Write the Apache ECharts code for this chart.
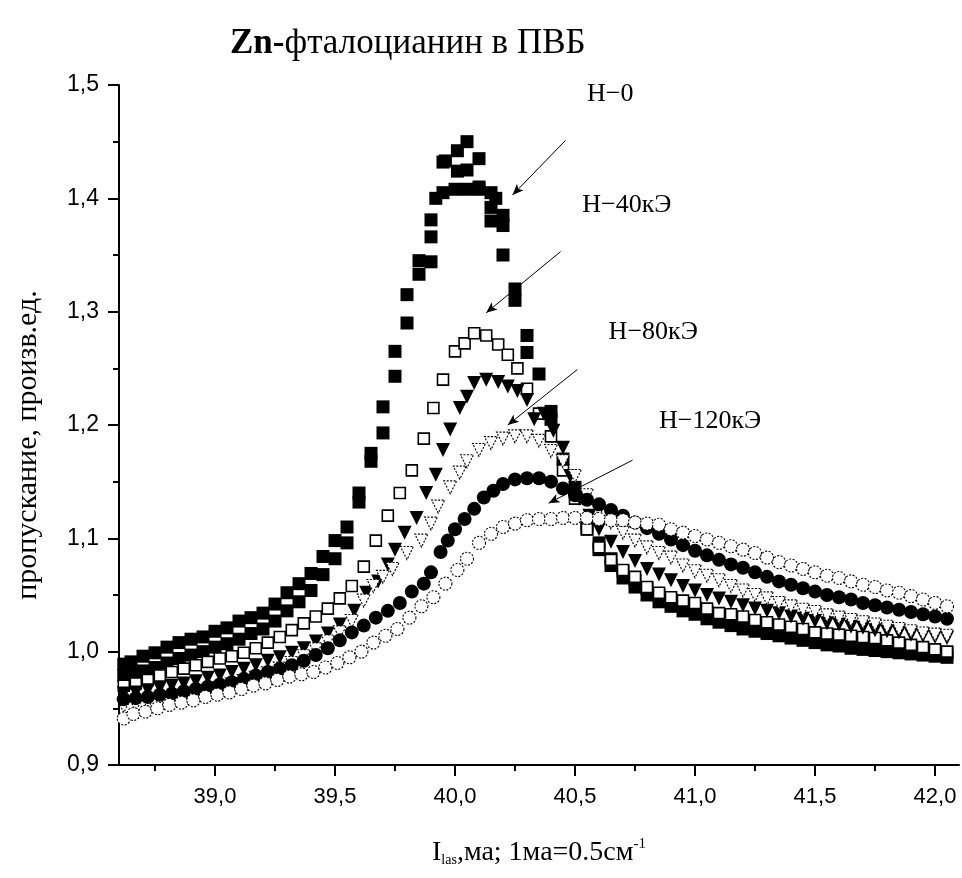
<!DOCTYPE html>
<html>
<head>
<meta charset="utf-8">
<script src="https://cdn.jsdelivr.net/npm/echarts@6/dist/echarts.min.js"></script>
<style>html,body{margin:0;padding:0;background:#fff}#c{width:962px;height:878px}</style>
</head>
<body>
<div id="c"></div>
<script>
// ---------- tick labels ----------
const xMajorTicks = [39.0, 39.5, 40.0, 40.5, 41.0, 41.5, 42.0];
const xMinorTicks = [38.75, 39.25, 39.75, 40.25, 40.75, 41.25, 41.75];

// ---------- H=0 (filled squares) : two scans + peak points ----------
const h0aX = [38.62,38.65,38.70,38.75,38.80,38.85,38.90,38.95,39.00,39.05,39.10,39.15,39.20,39.25,39.30,39.35,39.40,39.45,39.50,39.55,39.60,39.65,39.70,39.75,39.80,39.85,39.90,39.92,39.96,40.01,40.05,40.10,40.15,40.20,40.25,40.30,40.35,40.40,40.45,40.50,40.55,40.60,40.65,40.70,40.75,40.80,40.85,40.90,40.95,41.00,41.05,41.10,41.15,41.20,41.25,41.30,41.35,41.40,41.45,41.50,41.55,41.60,41.65,41.70,41.75,41.80,41.85,41.90,41.95,42.00,42.05];
const h0aY = [0.989,0.991,0.996,0.999,1.004,1.008,1.011,1.013,1.018,1.021,1.027,1.030,1.034,1.042,1.052,1.060,1.069,1.084,1.098,1.110,1.140,1.175,1.216,1.265,1.315,1.345,1.366,1.400,1.433,1.442,1.450,1.435,1.405,1.385,1.320,1.279,1.245,1.205,1.170,1.145,1.112,1.096,1.082,1.071,1.063,1.056,1.050,1.046,1.042,1.039,1.035,1.031,1.029,1.026,1.024,1.022,1.020,1.018,1.016,1.014,1.012,1.011,1.009,1.008,1.007,1.006,1.004,1.003,1.002,1.000,0.999];
const h0bX = [38.62,38.65,38.70,38.75,38.80,38.85,38.90,38.95,39.00,39.05,39.10,39.15,39.20,39.25,39.30,39.35,39.40,39.45,39.50,39.55,39.60,39.65,39.70,39.75,39.80,39.85,39.90,39.95,40.00,40.05,40.10,40.15,40.20,40.25,40.30,40.55,40.60,40.65,40.70,40.75,40.80,40.85,40.90,40.95,41.00,41.05,41.10,41.15,41.20,41.25,41.30,41.35,41.40,41.45,41.50,41.55,41.60,41.65,41.70,41.75,41.80,41.85,41.90,41.95,42.00,42.05];
const h0bY = [0.979,0.980,0.983,0.986,0.990,0.994,0.997,1.000,1.004,1.007,1.011,1.016,1.020,1.027,1.036,1.044,1.054,1.068,1.082,1.096,1.132,1.168,1.193,1.243,1.290,1.333,1.344,1.405,1.408,1.425,1.408,1.392,1.350,1.310,1.264,1.108,1.090,1.076,1.065,1.057,1.050,1.044,1.040,1.036,1.033,1.029,1.026,1.023,1.020,1.018,1.016,1.014,1.012,1.010,1.008,1.006,1.005,1.003,1.002,1.001,1.000,0.999,0.998,0.997,0.996,0.995];
const h0peakX = [39.90,39.95,40.01,40.05,40.10,40.15,40.17,40.20,40.40];
const h0peakY = [1.381,1.432,1.424,1.408,1.410,1.380,1.400,1.376,1.212];

// ---------- H=40 kOe (open squares) ----------
const h40X = [38.62,38.67,38.72,38.77,38.82,38.87,38.92,38.97,39.02,39.07,39.12,39.17,39.22,39.27,39.32,39.37,39.42,39.47,39.52,39.57,39.62,39.67,39.72,39.77,39.82,39.87,39.91,39.95,40.00,40.04,40.08,40.13,40.18,40.22,40.26,40.30,40.35,40.40,40.45,40.50,40.55,40.60,40.65,40.70,40.75,40.80,40.85,40.90,40.95,41.00,41.05,41.10,41.15,41.20,41.25,41.30,41.35,41.40,41.45,41.50,41.55,41.60,41.65,41.70,41.75,41.80,41.85,41.90,41.95,42.00,42.05];
const h40Y = [0.970,0.972,0.975,0.979,0.982,0.985,0.988,0.991,0.994,0.996,0.999,1.003,1.008,1.013,1.019,1.025,1.031,1.038,1.047,1.058,1.075,1.098,1.120,1.140,1.160,1.188,1.215,1.240,1.265,1.272,1.281,1.279,1.271,1.262,1.250,1.232,1.210,1.190,1.160,1.135,1.108,1.092,1.081,1.072,1.066,1.057,1.052,1.048,1.045,1.043,1.038,1.034,1.033,1.031,1.028,1.026,1.024,1.022,1.020,1.017,1.016,1.015,1.014,1.013,1.012,1.010,1.008,1.006,1.004,1.002,1.000];

// ---------- filled down-triangles ----------
const triFX = [38.62,38.67,38.72,38.77,38.82,38.87,38.92,38.97,39.02,39.07,39.12,39.17,39.22,39.27,39.32,39.37,39.42,39.47,39.52,39.58,39.63,39.68,39.72,39.75,39.79,39.84,39.88,39.92,39.95,39.98,40.02,40.05,40.08,40.13,40.18,40.22,40.26,40.30,40.33,40.37,40.41,40.45,40.48,40.52,40.56,40.60,40.65,40.70,40.75,40.80,40.85,40.90,40.95,41.00,41.05,41.10,41.15,41.20,41.25,41.30,41.35,41.40,41.45,41.50,41.55,41.60,41.65,41.70,41.75,41.80,41.85,41.90,41.95,42.00,42.05];
const triFY = [0.963,0.964,0.966,0.968,0.970,0.972,0.974,0.977,0.979,0.982,0.985,0.988,0.992,0.995,0.999,1.003,1.009,1.016,1.024,1.036,1.052,1.062,1.077,1.090,1.105,1.118,1.140,1.156,1.178,1.196,1.215,1.225,1.237,1.240,1.238,1.234,1.230,1.222,1.205,1.210,1.195,1.180,1.155,1.135,1.120,1.108,1.097,1.088,1.080,1.073,1.068,1.063,1.058,1.054,1.050,1.047,1.044,1.041,1.038,1.036,1.034,1.031,1.029,1.027,1.025,1.024,1.022,1.021,1.019,1.018,1.017,1.015,1.014,1.013,1.012];

// ---------- open down-triangles ----------
const triOX = [38.62,38.67,38.72,38.77,38.82,38.87,38.92,38.97,39.02,39.07,39.12,39.17,39.22,39.27,39.32,39.37,39.42,39.47,39.52,39.57,39.62,39.66,39.70,39.74,39.80,39.86,39.90,39.93,39.98,40.02,40.05,40.10,40.15,40.20,40.25,40.30,40.35,40.40,40.45,40.50,40.55,40.60,40.65,40.70,40.75,40.80,40.85,40.90,40.95,41.00,41.05,41.10,41.15,41.20,41.25,41.30,41.35,41.40,41.45,41.50,41.55,41.60,41.65,41.70,41.75,41.80,41.85,41.90,41.95,42.00,42.05];
const triOY = [0.952,0.953,0.955,0.957,0.959,0.961,0.963,0.965,0.968,0.971,0.974,0.977,0.981,0.985,0.990,0.996,1.002,1.009,1.017,1.027,1.045,1.058,1.066,1.073,1.087,1.098,1.113,1.128,1.145,1.158,1.168,1.178,1.184,1.188,1.190,1.190,1.186,1.177,1.168,1.155,1.138,1.125,1.114,1.105,1.098,1.092,1.087,1.083,1.076,1.071,1.067,1.063,1.058,1.054,1.050,1.047,1.043,1.040,1.037,1.035,1.032,1.030,1.028,1.026,1.024,1.022,1.020,1.018,1.016,1.015,1.014];

// ---------- filled circles ----------
const cirFX = [38.62,38.67,38.72,38.77,38.82,38.87,38.92,38.97,39.02,39.07,39.12,39.17,39.22,39.27,39.32,39.37,39.42,39.47,39.52,39.57,39.62,39.67,39.72,39.77,39.82,39.87,39.90,39.94,39.97,40.00,40.04,40.08,40.12,40.16,40.20,40.25,40.30,40.35,40.40,40.45,40.50,40.55,40.60,40.65,40.70,40.75,40.80,40.85,40.90,40.95,41.00,41.05,41.10,41.15,41.20,41.25,41.30,41.35,41.40,41.45,41.50,41.55,41.60,41.65,41.70,41.75,41.80,41.85,41.90,41.95,42.00,42.05];
const cirFY = [0.958,0.959,0.960,0.962,0.963,0.965,0.967,0.969,0.971,0.973,0.976,0.979,0.982,0.985,0.988,0.992,0.997,1.003,1.010,1.017,1.023,1.030,1.036,1.043,1.053,1.060,1.070,1.088,1.098,1.108,1.117,1.126,1.136,1.142,1.148,1.152,1.153,1.153,1.150,1.144,1.138,1.134,1.130,1.125,1.120,1.114,1.109,1.104,1.099,1.094,1.089,1.085,1.081,1.077,1.074,1.070,1.066,1.062,1.059,1.056,1.053,1.050,1.048,1.046,1.043,1.041,1.039,1.037,1.035,1.033,1.031,1.029];

// ---------- open circles ----------
const cirOX = [38.62,38.66,38.71,38.76,38.81,38.86,38.91,38.96,39.01,39.06,39.11,39.16,39.21,39.26,39.31,39.36,39.41,39.46,39.51,39.56,39.61,39.66,39.71,39.76,39.81,39.86,39.91,39.96,40.01,40.05,40.10,40.15,40.20,40.25,40.30,40.35,40.40,40.45,40.50,40.55,40.60,40.65,40.70,40.75,40.80,40.85,40.90,40.95,41.00,41.05,41.10,41.15,41.20,41.25,41.30,41.35,41.40,41.45,41.50,41.55,41.60,41.65,41.70,41.75,41.80,41.85,41.90,41.95,42.00,42.05];
const cirOY = [0.941,0.945,0.947,0.950,0.953,0.955,0.957,0.960,0.962,0.964,0.967,0.970,0.972,0.975,0.978,0.980,0.982,0.986,0.990,0.995,1.000,1.008,1.014,1.020,1.030,1.040,1.048,1.060,1.072,1.082,1.096,1.104,1.110,1.113,1.116,1.117,1.117,1.118,1.118,1.118,1.117,1.116,1.116,1.114,1.113,1.112,1.108,1.105,1.102,1.099,1.096,1.093,1.090,1.087,1.083,1.079,1.076,1.073,1.070,1.067,1.065,1.062,1.059,1.057,1.054,1.052,1.049,1.046,1.043,1.040];

// ---------- annotations ----------
const noteText = ['H\u22120', 'H\u221240кЭ', 'H\u221280кЭ', 'H\u2212120кЭ'];
const noteX = [40.55, 40.53, 40.64, 40.85];
const noteY = [1.492, 1.394, 1.282, 1.203];
const arrowFromX = [40.46, 40.44, 40.51, 40.74];
const arrowFromY = [1.451, 1.353, 1.249, 1.169];
const arrowToX = [40.24, 40.13, 40.22, 40.39];
const arrowToY = [1.403, 1.299, 1.200, 1.131];

const zip = (xs, ys) => xs.map((x, i) => [x, ys[i]]);
const fmt = v => v.toFixed(1).replace('.', ',');

const chart = echarts.init(document.getElementById('c'), null, {renderer: 'canvas'});

const arrowLines = arrowFromX.map((x, i) => [
  {coord: [x, arrowFromY[i]], symbol: 'none'},
  {coord: [arrowToX[i], arrowToY[i]], symbol: 'arrow', symbolSize: [7, 11]}
]);

const serifFont = 'Liberation Serif';
const sansFont = 'Liberation Sans';

chart.setOption({
  backgroundColor: '#fff',
  animation: false,
  title: {
    text: '{b|Zn-}фталоцианин в ПВБ',
    left: 225, top: 21,
    textStyle: {
      fontFamily: serifFont, fontSize: 35, fontWeight: 'normal', color: '#000',
      rich: {b: {fontFamily: serifFont, fontSize: 35, fontWeight: 'bold', color: '#000'}}
    }
  },
  grid: {left: 119, right: 3, top: 85, bottom: 113, containLabel: false},
  xAxis: [{
    type: 'value', min: 38.6, max: 42.1,
    axisLine: {show: true, onZero: false, lineStyle: {color: '#000', width: 2}},
    axisTick: {show: true, inside: false, length: 11, customValues: xMajorTicks, lineStyle: {color: '#000', width: 2}},
    axisLabel: {customValues: xMajorTicks, formatter: fmt, margin: 21, fontFamily: sansFont, fontSize: 22, color: '#000'},
    splitLine: {show: false},
    name: '{n|I}{s|las}{n|,ма; 1ма=0.5см}{p|-1}',
    nameLocation: 'middle', nameGap: 72,
    nameTextStyle: {
      fontFamily: serifFont, fontSize: 28, color: '#000',
      rich: {
        n: {fontFamily: serifFont, fontSize: 28, color: '#000'},
        s: {fontFamily: serifFont, fontSize: 14, color: '#000', padding: [16, 0, 0, 0]},
        p: {fontFamily: serifFont, fontSize: 15, color: '#000', padding: [0, 0, 16, 0]}
      }
    }
  }, {
    type: 'value', min: 38.6, max: 42.1, position: 'bottom',
    axisLine: {show: false},
    axisTick: {show: true, inside: false, length: 6, customValues: xMinorTicks, lineStyle: {color: '#000', width: 2}},
    axisLabel: {show: false},
    splitLine: {show: false}
  }],
  yAxis: {
    type: 'value', min: 0.9, max: 1.5, interval: 0.1,
    axisLine: {show: true, onZero: false, lineStyle: {color: '#000', width: 2}},
    axisTick: {show: true, inside: false, length: 11, lineStyle: {color: '#000', width: 2}},
    minorTick: {show: true, splitNumber: 2, length: 6, lineStyle: {color: '#000', width: 2}},
    axisLabel: {formatter: fmt, margin: 20, fontFamily: sansFont, fontSize: 23, color: '#000'},
    splitLine: {show: false},
    name: 'пропускание, произв.ед.',
    nameLocation: 'middle', nameGap: 76, nameRotate: 90,
    nameTextStyle: {fontFamily: serifFont, fontSize: 30, color: '#000', padding: [0, 40, 0, 0]}
  },
  series: [
    {type: 'scatter', name: 'H=0', symbol: 'rect', symbolSize: 13, silent: true,
     itemStyle: {color: '#000', opacity: 1},
     data: zip(h0aX, h0aY).concat(zip(h0bX, h0bY), zip(h0peakX, h0peakY))},
    {type: 'scatter', name: 'H=40', symbol: 'rect', symbolSize: 11, silent: true,
     itemStyle: {color: '#fff', borderColor: '#000', borderWidth: 1.6, opacity: 1},
     data: zip(h40X, h40Y)},
    {type: 'scatter', name: 'triF', symbol: 'triangle', symbolSize: 14, symbolRotate: 180, silent: true,
     itemStyle: {color: '#000', opacity: 1},
     data: zip(triFX, triFY)},
    {type: 'scatter', name: 'triO', symbol: 'triangle', symbolSize: 13, symbolRotate: 180, silent: true,
     itemStyle: {color: '#fff', borderColor: '#000', borderWidth: 1.1, borderType: [2, 1.5], opacity: 1},
     data: zip(triOX, triOY)},
    {type: 'scatter', name: 'cirF', symbol: 'circle', symbolSize: 14, silent: true,
     itemStyle: {color: '#000', opacity: 1},
     data: zip(cirFX, cirFY)},
    {type: 'scatter', name: 'cirO', symbol: 'circle', symbolSize: 13, silent: true,
     itemStyle: {color: '#fff', borderColor: '#000', borderWidth: 1.1, borderType: [2, 1.5], opacity: 1},
     data: zip(cirOX, cirOY)},
    {type: 'scatter', name: 'notes', symbolSize: 0, silent: true,
     itemStyle: {opacity: 1},
     data: zip(noteX, noteY).map((p, i) => ({value: p, label: {formatter: noteText[i]}})),
     label: {show: true, position: 'right', distance: 0, fontFamily: serifFont, fontSize: 26, color: '#000', opacity: 1},
     markLine: {silent: true, symbol: ['none', 'arrow'], label: {show: false},
       lineStyle: {color: '#000', width: 1, type: 'solid', opacity: 1},
       itemStyle: {color: '#000', opacity: 1},
       data: arrowLines}
    }
  ]
});
</script>
</body>
</html>
